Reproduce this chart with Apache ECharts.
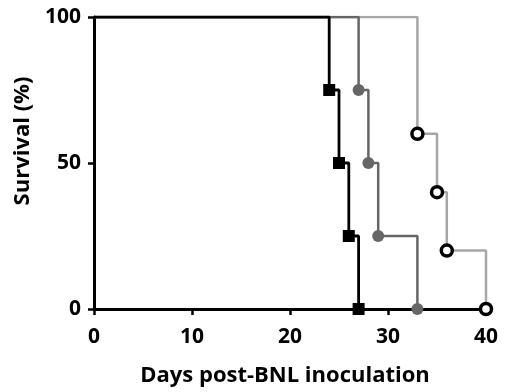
<!DOCTYPE html>
<html>
<head>
<meta charset="utf-8">
<script src="https://cdn.jsdelivr.net/npm/echarts@6/dist/echarts.min.js"></script>
<style>html,body{margin:0;padding:0;background:#fff}#c{width:516px;height:392px}</style>
</head>
<body>
<div id="c"></div>
<script>
// Kaplan-Meier step data (day, survival %)
const blackDays = [0, 24, 25, 26, 27];
const blackSurv = [100, 75, 50, 25, 0];
const darkDays = [0, 27, 28, 29, 33];
const darkSurv = [100, 75, 50, 25, 0];
const lightDays = [0, 33, 35, 36, 40];
const lightSurv = [100, 60, 40, 20, 0];
const xTicks = [0, 10, 20, 30, 40];
const yTicks = [0, 50, 100];
const xTitle = 'Days post-BNL inoculation';
const yTitle = 'Survival (%)';

function pts(d, s) { return d.map((v, i) => [v, s[i]]); }
function events(d, s) { return pts(d, s).slice(1); }

const font = 'Open Sans';
const chart = echarts.init(document.getElementById('c'));
chart.setOption({
  animation: false,
  grid: { left: 94, right: 30, top: 17, bottom: 78 },
  xAxis: {
    type: 'value', min: 0, max: 40, interval: 10,
    axisLine: { lineStyle: { color: '#000', width: 3 } },
    axisTick: { show: true, length: 6, lineStyle: { color: '#000', width: 2.5 } },
    axisLabel: { color: '#000', fontFamily: font, fontWeight: 'bold', fontSize: 21, margin: 18,
      formatter: v => xTicks.includes(v) ? String(v) : '' },
    splitLine: { show: false },
    name: xTitle, nameLocation: 'middle', nameGap: 56,
    nameTextStyle: { color: '#000', fontFamily: font, fontWeight: 'bold', fontSize: 22, padding: [0, 10, 0, 0] }
  },
  yAxis: {
    type: 'value', min: 0, max: 100, interval: 50,
    axisLine: { show: true, lineStyle: { color: '#000', width: 3 } },
    axisTick: { show: true, length: 6, lineStyle: { color: '#000', width: 2.5 } },
    axisLabel: { color: '#000', fontFamily: font, fontWeight: 'bold', fontSize: 21, margin: 13,
      formatter: v => yTicks.includes(v) ? String(v) : '' },
    splitLine: { show: false },
    name: yTitle, nameLocation: 'middle', nameGap: 55, nameRotate: 90,
    nameTextStyle: { color: '#000', fontFamily: font, fontWeight: 'bold', fontSize: 22, padding: [0, 0, 0, 44] }
  },
  series: [
    { type: 'line', step: 'end', data: pts(lightDays, lightSurv), showSymbol: false, symbol: 'none',
      lineStyle: { color: '#a6a6a6', width: 2.5 }, z: 2 },
    { type: 'line', step: 'end', data: pts(darkDays, darkSurv), showSymbol: false, symbol: 'none',
      lineStyle: { color: '#666666', width: 2.5 }, z: 3 },
    { type: 'line', step: 'end', data: pts(blackDays, blackSurv), showSymbol: false, symbol: 'none',
      lineStyle: { color: '#000', width: 2.8 }, z: 4 },
    { type: 'scatter', data: events(lightDays, lightSurv), symbol: 'circle', symbolSize: 11,
      itemStyle: { color: '#fff', borderColor: '#000', borderWidth: 3.5, opacity: 1 }, z: 5 },
    { type: 'scatter', data: events(darkDays, darkSurv), symbol: 'circle', symbolSize: 12,
      itemStyle: { color: '#666666', opacity: 1 }, z: 5 },
    { type: 'scatter', data: events(blackDays, blackSurv), symbol: 'rect', symbolSize: 12,
      itemStyle: { color: '#000', opacity: 1 }, z: 6 }
  ]
});
</script>
</body>
</html>
